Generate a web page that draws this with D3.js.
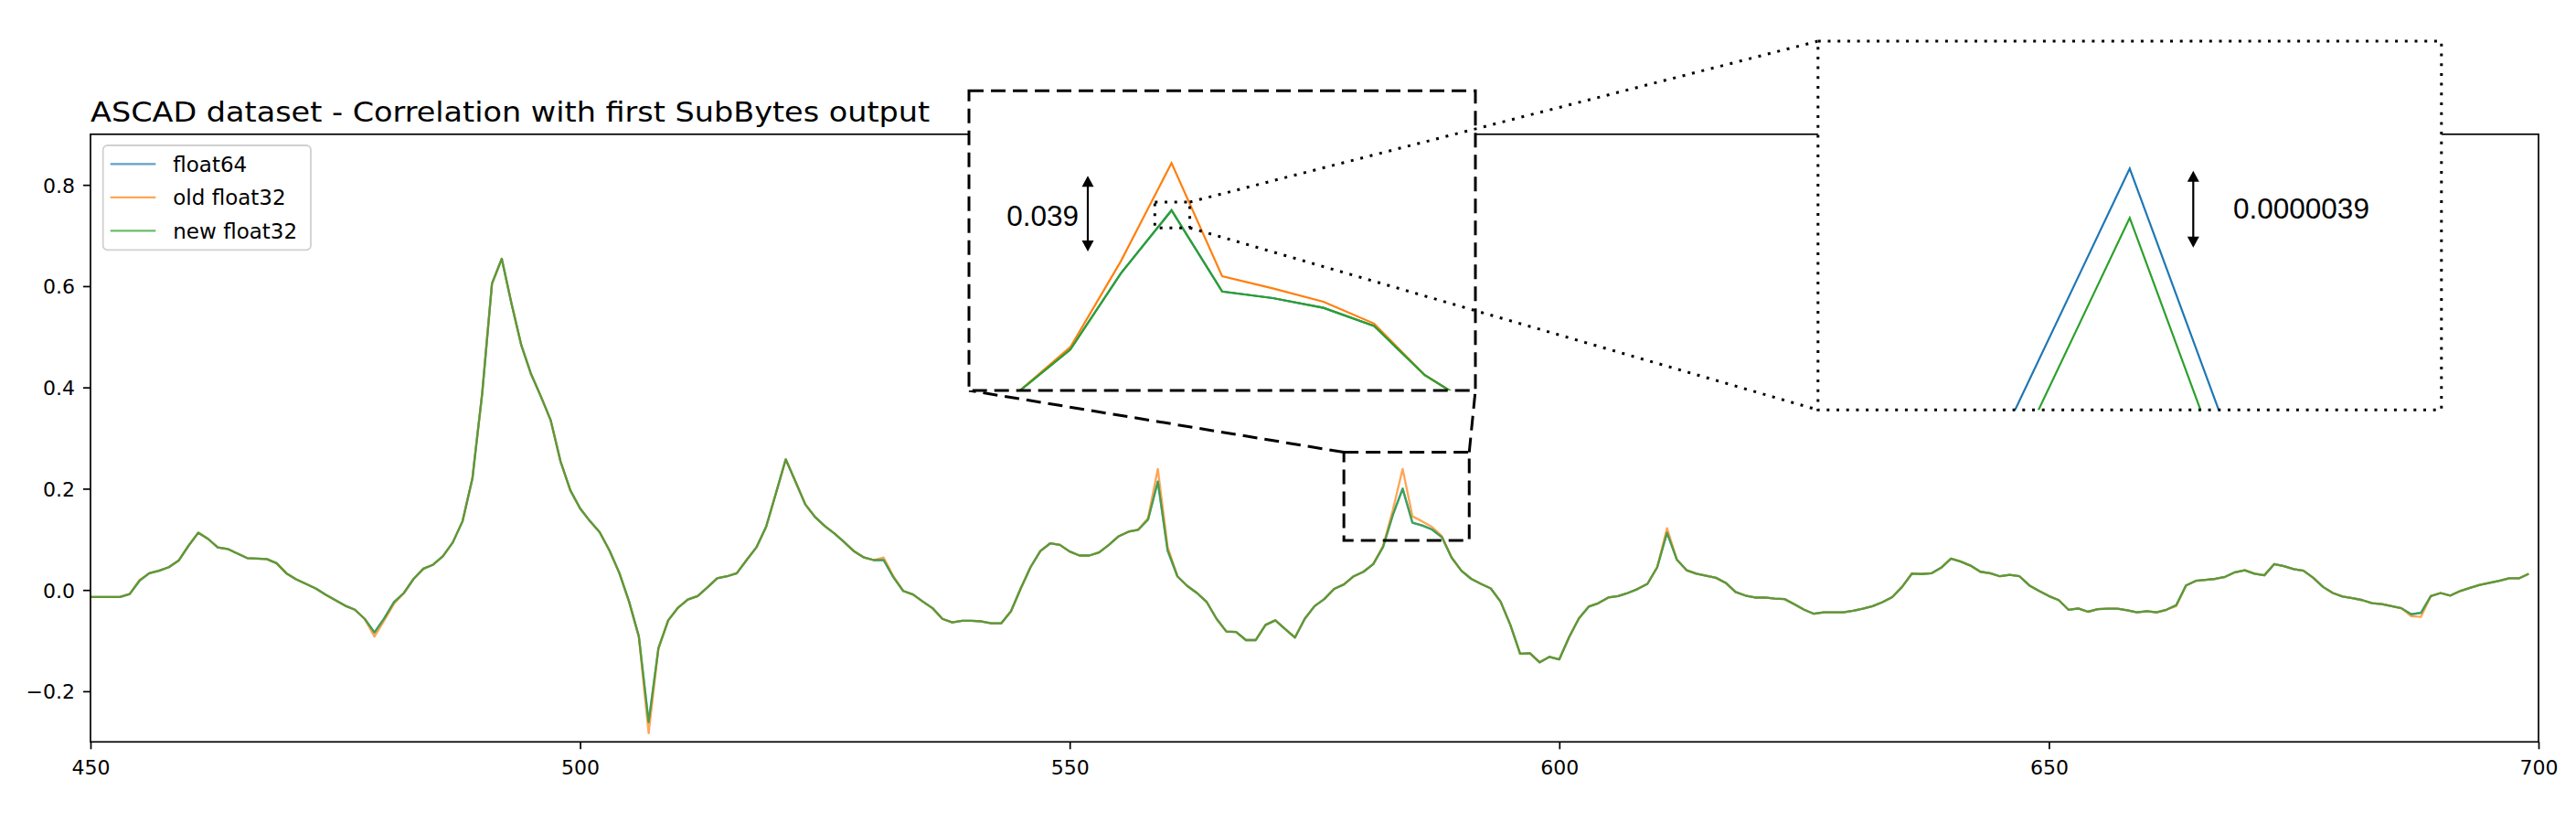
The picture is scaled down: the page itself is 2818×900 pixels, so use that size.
<!DOCTYPE html>
<html><head><meta charset="utf-8">
<script src="https://cdn.jsdelivr.net/npm/d3@7"></script>
<style>body{margin:0;background:#fff}</style>
</head><body><svg id="c" width="2818" height="900"></svg>
<script>
// ---------------- data ----------------
const xStart = 450; // first sample index
const newFloat32 = [
 -0.014,-0.014,-0.014,-0.014,-0.008,0.018,0.033,0.038,0.045,0.058,
 0.087,0.113,0.101,0.084,0.081,0.072,0.063,0.062,0.061,0.053,
 0.033,0.021,0.012,0.003,-0.009,-0.020,-0.031,-0.039,-0.057,-0.084,
 -0.056,-0.024,-0.006,0.022,0.042,0.050,0.067,0.094,0.136,0.220,
 0.388,0.605,0.654,0.565,0.483,0.426,0.382,0.335,0.254,0.197,
 0.161,0.136,0.114,0.078,0.034,-0.023,-0.092,-0.261,-0.115,-0.060,
 -0.035,-0.019,-0.012,0.005,0.023,0.027,0.033,0.059,0.084,0.125,
 0.191,0.258,0.214,0.169,0.144,0.126,0.111,0.094,0.076,0.064,
 0.059,0.059,0.025,-0.002,-0.009,-0.023,-0.036,-0.057,-0.064,-0.061,
 -0.061,-0.062,-0.066,-0.066,-0.042,0.003,0.045,0.077,0.092,0.089,
 0.076,0.068,0.068,0.074,0.089,0.106,0.115,0.119,0.139,0.214,
 0.078,0.027,0.008,-0.006,-0.024,-0.057,-0.082,-0.083,-0.099,-0.099,
 -0.069,-0.060,-0.077,-0.094,-0.057,-0.032,-0.018,0.002,0.011,0.027,
 0.036,0.051,0.085,0.148,0.2000000,0.133,0.1275,0.1195,0.1045,0.064,
 0.038,0.022,0.012,0.003,-0.023,-0.069,-0.126,-0.125,-0.143,-0.132,
 -0.137,-0.093,-0.056,-0.033,-0.026,-0.015,-0.012,-0.006,0.002,0.012,
 0.045,0.113,0.060,0.039,0.032,0.028,0.024,0.014,-0.004,-0.011,
 -0.015,-0.015,-0.017,-0.018,-0.028,-0.039,-0.047,-0.044,-0.044,-0.044,
 -0.041,-0.037,-0.032,-0.024,-0.014,0.006,0.032,0.0315,0.033,0.044,
 0.062,0.056,0.048,0.036,0.033,0.027,0.030,0.027,0.009,-0.002,
 -0.012,-0.020,-0.039,-0.0365,-0.043,-0.038,-0.037,-0.037,-0.040,-0.044,
 -0.042,-0.044,-0.039,-0.030,0.009,0.018,0.020,0.022,0.026,0.035,
 0.039,0.032,0.029,0.051,0.047,0.041,0.038,0.024,0.006,-0.006,
 -0.013,-0.016,-0.020,-0.026,-0.028,-0.032,-0.036,-0.048,-0.045,-0.012,
 -0.006,-0.011,-0.002,0.004,0.010,0.014,0.018,0.023,0.023,0.032
];
const oldFloat32 = [
 -0.014,-0.014,-0.014,-0.014,-0.008,0.020,0.033,0.038,0.045,0.058,
 0.087,0.113,0.101,0.084,0.081,0.072,0.063,0.062,0.061,0.053,
 0.033,0.021,0.012,0.003,-0.009,-0.020,-0.031,-0.039,-0.057,-0.092,
 -0.060,-0.027,-0.006,0.022,0.042,0.050,0.067,0.094,0.136,0.220,
 0.388,0.605,0.654,0.565,0.483,0.426,0.382,0.335,0.254,0.197,
 0.161,0.136,0.114,0.078,0.034,-0.023,-0.092,-0.283,-0.115,-0.060,
 -0.035,-0.019,-0.012,0.005,0.023,0.027,0.033,0.059,0.084,0.125,
 0.191,0.258,0.214,0.169,0.144,0.126,0.111,0.094,0.076,0.064,
 0.059,0.064,0.027,-0.002,-0.009,-0.023,-0.036,-0.057,-0.064,-0.061,
 -0.061,-0.062,-0.066,-0.066,-0.042,0.003,0.045,0.077,0.092,0.089,
 0.076,0.068,0.068,0.074,0.089,0.106,0.115,0.119,0.142,0.239,
 0.085,0.027,0.008,-0.006,-0.024,-0.057,-0.082,-0.083,-0.099,-0.099,
 -0.069,-0.060,-0.077,-0.094,-0.057,-0.032,-0.018,0.002,0.011,0.027,
 0.036,0.051,0.087,0.158,0.239,0.1455,0.1355,0.1245,0.1065,0.064,
 0.038,0.022,0.012,0.003,-0.023,-0.069,-0.126,-0.125,-0.143,-0.132,
 -0.137,-0.093,-0.056,-0.033,-0.026,-0.015,-0.012,-0.006,0.002,0.012,
 0.045,0.122,0.060,0.039,0.032,0.028,0.024,0.014,-0.004,-0.011,
 -0.015,-0.015,-0.017,-0.018,-0.028,-0.039,-0.047,-0.044,-0.044,-0.044,
 -0.041,-0.037,-0.032,-0.024,-0.014,0.006,0.033,0.0315,0.033,0.044,
 0.062,0.056,0.048,0.036,0.033,0.027,0.030,0.027,0.009,-0.002,
 -0.012,-0.020,-0.039,-0.0365,-0.043,-0.038,-0.037,-0.037,-0.040,-0.044,
 -0.042,-0.044,-0.039,-0.032,0.009,0.018,0.020,0.022,0.026,0.035,
 0.039,0.032,0.029,0.051,0.047,0.041,0.038,0.024,0.006,-0.006,
 -0.013,-0.016,-0.020,-0.026,-0.028,-0.032,-0.036,-0.052,-0.053,-0.012,
 -0.006,-0.011,-0.002,0.004,0.010,0.014,0.018,0.023,0.023,0.032
];
const float64 = [
 -0.014,-0.014,-0.014,-0.014,-0.008,0.018,0.033,0.038,0.045,0.058,
 0.087,0.113,0.101,0.084,0.081,0.072,0.063,0.062,0.061,0.053,
 0.033,0.021,0.012,0.003,-0.009,-0.020,-0.031,-0.039,-0.057,-0.084,
 -0.056,-0.024,-0.006,0.022,0.042,0.050,0.067,0.094,0.136,0.220,
 0.388,0.605,0.654,0.565,0.483,0.426,0.382,0.335,0.254,0.197,
 0.161,0.136,0.114,0.078,0.034,-0.023,-0.092,-0.261,-0.115,-0.060,
 -0.035,-0.019,-0.012,0.005,0.023,0.027,0.033,0.059,0.084,0.125,
 0.191,0.258,0.214,0.169,0.144,0.126,0.111,0.094,0.076,0.064,
 0.059,0.059,0.025,-0.002,-0.009,-0.023,-0.036,-0.057,-0.064,-0.061,
 -0.061,-0.062,-0.066,-0.066,-0.042,0.003,0.045,0.077,0.092,0.089,
 0.076,0.068,0.068,0.074,0.089,0.106,0.115,0.119,0.139,0.214,
 0.078,0.027,0.008,-0.006,-0.024,-0.057,-0.082,-0.083,-0.099,-0.099,
 -0.069,-0.060,-0.077,-0.094,-0.057,-0.032,-0.018,0.002,0.011,0.027,
 0.036,0.051,0.085,0.148,0.2000039,0.133,0.1275,0.1195,0.1045,0.064,
 0.038,0.022,0.012,0.003,-0.023,-0.069,-0.126,-0.125,-0.143,-0.132,
 -0.137,-0.093,-0.056,-0.033,-0.026,-0.015,-0.012,-0.006,0.002,0.012,
 0.045,0.113,0.060,0.039,0.032,0.028,0.024,0.014,-0.004,-0.011,
 -0.015,-0.015,-0.017,-0.018,-0.028,-0.039,-0.047,-0.044,-0.044,-0.044,
 -0.041,-0.037,-0.032,-0.024,-0.014,0.006,0.032,0.0315,0.033,0.044,
 0.062,0.056,0.048,0.036,0.033,0.027,0.030,0.027,0.009,-0.002,
 -0.012,-0.020,-0.039,-0.0365,-0.043,-0.038,-0.037,-0.037,-0.040,-0.044,
 -0.042,-0.044,-0.039,-0.030,0.009,0.018,0.020,0.022,0.026,0.035,
 0.039,0.032,0.029,0.051,0.047,0.041,0.038,0.024,0.006,-0.006,
 -0.013,-0.016,-0.020,-0.026,-0.028,-0.032,-0.036,-0.048,-0.045,-0.012,
 -0.006,-0.011,-0.002,0.004,0.010,0.014,0.018,0.023,0.023,0.032
];
const seriesNames = ["float64", "old float32", "new float32"];
const xTicks = [450, 500, 550, 600, 650, 700];
const yTicks = [-0.2, 0.0, 0.2, 0.4, 0.6, 0.8];
const titleText = "ASCAD dataset - Correlation with first SubBytes output";
const diffLabels = ["0.039", "0.0000039"];
// zoom windows (data coordinates)
const zoomMarkMain = {x: [578, 590.8], y: [0.098, 0.272]};   // dashed box drawn on the main axes
const inset1Lim = {x: [580, 590], y: [0.0513, 0.2986]};        // first inset view
const zoomMarkInset1 = {x: [583.67, 584.36], y: [0.1855, 0.2068]}; // dotted box inside inset 1
const inset2Half = {x: 0.000997, yAbove: 0.00001006, yBelow: 0.00001907}; // second inset view around float64 peak

// ---------------- layout ----------------
const W = 2818, H = 900;
const plot = {l: 99, r: 2777, t: 146.8, b: 811.3};
const in1 = {l: 1060, r: 1614, t: 99.3, b: 427};
const in2 = {l: 1988.8, r: 2670.8, t: 45, b: 448.3};
const colors = ["#1f77b4", "#ff7f0e", "#2ca02c"];
const FONT = "DejaVu Sans, sans-serif";
const ARIAL = "Liberation Sans, Arial, sans-serif";

const svg = d3.select("#c");
svg.append("rect").attr("width", W).attr("height", H).attr("fill", "#fff");
const defs = svg.append("defs");

const idx = d3.range(newFloat32.length).map(i => xStart + i);
const allSeries = [float64, oldFloat32, newFloat32];

const x = d3.scaleLinear().domain([450, 700]).range([plot.l, plot.r]);
const y = d3.scaleLinear().domain([-0.3, 0.9]).range([plot.b, plot.t]);

defs.append("clipPath").attr("id", "clipMain").append("rect")
  .attr("x", plot.l).attr("y", plot.t).attr("width", plot.r - plot.l).attr("height", plot.b - plot.t);

// main lines
const gMain = svg.append("g").attr("clip-path", "url(#clipMain)");
allSeries.forEach((s, k) => {
  const line = d3.line().x((d, i) => x(idx[i])).y(d => y(d));
  gMain.append("path").datum(s).attr("d", line)
    .attr("fill", "none").attr("stroke", colors[k]).attr("stroke-opacity", 0.7)
    .attr("stroke-width", 2.3).attr("stroke-linejoin", "round");
});

// spines
svg.append("rect").attr("x", plot.l).attr("y", plot.t).attr("width", plot.r - plot.l).attr("height", plot.b - plot.t)
  .attr("fill", "none").attr("stroke", "#000").attr("stroke-width", 1.7);

// axes
const xAxis = svg.append("g").attr("transform", `translate(0,${plot.b})`)
  .call(d3.axisBottom(x).tickValues(xTicks).tickSize(8).tickFormat(d3.format("d")));
xAxis.select(".domain").remove();
xAxis.selectAll("line").attr("stroke", "#000").attr("stroke-width", 1.7);
xAxis.selectAll("text").attr("y", 36).attr("dy", 0).attr("fill", "#000")
  .style("font-family", FONT).style("font-size", "22px");

const yFmt = d => (d < 0 ? "\u2212" : "") + Math.abs(d).toFixed(1);
const yAxis = svg.append("g").attr("transform", `translate(${plot.l},0)`)
  .call(d3.axisLeft(y).tickValues(yTicks).tickSize(8).tickFormat(yFmt));
yAxis.select(".domain").remove();
yAxis.selectAll("line").attr("stroke", "#000").attr("stroke-width", 1.7);
yAxis.selectAll("text").attr("x", -17).attr("dy", "0.36em").attr("fill", "#000")
  .style("font-family", FONT).style("font-size", "22px");

// title
svg.append("text").attr("transform", `translate(${plot.l},132.7) scale(1.08,1)`)
  .style("font-family", FONT).style("font-size", "31px").attr("fill", "#000").text(titleText);

// legend
const leg = svg.append("g");
leg.append("rect").attr("x", 112.7).attr("y", 159).attr("width", 227.3).attr("height", 114.3)
  .attr("rx", 5).attr("fill", "#fff").attr("fill-opacity", 0.8).attr("stroke", "#d0d0d0").attr("stroke-width", 1.8);
seriesNames.forEach((n, k) => {
  const cy = 179.3 + k * 36.5;
  leg.append("line").attr("x1", 120.7).attr("x2", 170.3).attr("y1", cy).attr("y2", cy)
    .attr("stroke", colors[k]).attr("stroke-opacity", 0.7).attr("stroke-width", 2.3);
  leg.append("text").attr("x", 189.3).attr("y", cy).attr("dy", "0.36em")
    .style("font-family", FONT).style("font-size", "23px").attr("fill", "#000").text(n);
});

// dashed zoom mark on main axes + connectors to inset 1
const dashed = "16,8";
const mr = {l: x(zoomMarkMain.x[0]), r: x(zoomMarkMain.x[1]), t: y(zoomMarkMain.y[1]), b: y(zoomMarkMain.y[0])};
const gAnn = svg.append("g").attr("fill", "none").attr("stroke", "#000").attr("stroke-width", 3);
gAnn.append("rect").attr("x", mr.l).attr("y", mr.t).attr("width", mr.r - mr.l).attr("height", mr.b - mr.t)
  .attr("stroke-dasharray", dashed);
gAnn.append("line").attr("x1", mr.l).attr("y1", mr.t).attr("x2", in1.l).attr("y2", in1.b).attr("stroke-dasharray", dashed);
gAnn.append("line").attr("x1", mr.r).attr("y1", mr.t).attr("x2", in1.r).attr("y2", in1.b).attr("stroke-dasharray", dashed);

// arrow helper
function dblArrow(g, ax, y1, y2) {
  g.append("line").attr("x1", ax).attr("x2", ax).attr("y1", y1 + 8).attr("y2", y2 - 8)
    .attr("stroke", "#000").attr("stroke-width", 2.2);
  g.append("path").attr("d", `M${ax},${y1} L${ax - 6.5},${y1 + 12} L${ax + 6.5},${y1 + 12} Z`).attr("fill", "#000");
  g.append("path").attr("d", `M${ax},${y2} L${ax - 6.5},${y2 - 12} L${ax + 6.5},${y2 - 12} Z`).attr("fill", "#000");
}

// ---------- inset 1 ----------
const x1 = d3.scaleLinear().domain(inset1Lim.x).range([in1.l, in1.r]);
const y1 = d3.scaleLinear().domain(inset1Lim.y).range([in1.b, in1.t]);
defs.append("clipPath").attr("id", "clip1").append("rect")
  .attr("x", in1.l).attr("y", in1.t).attr("width", in1.r - in1.l).attr("height", in1.b - in1.t);
const gI1 = svg.append("g");
gI1.append("rect").attr("x", in1.l).attr("y", in1.t).attr("width", in1.r - in1.l).attr("height", in1.b - in1.t).attr("fill", "#fff");
const gI1L = gI1.append("g").attr("clip-path", "url(#clip1)");
const sub1 = idx.map((v, i) => i).filter(i => idx[i] >= 578 && idx[i] <= 592);
allSeries.forEach((s, k) => {
  const line = d3.line().x(i => x1(idx[i])).y(i => y1(s[i]));
  gI1L.append("path").datum(sub1).attr("d", line).attr("fill", "none")
    .attr("stroke", colors[k]).attr("stroke-width", 2.2).attr("stroke-linejoin", "miter");
});
gI1.append("rect").attr("x", in1.l).attr("y", in1.t).attr("width", in1.r - in1.l).attr("height", in1.b - in1.t)
  .attr("fill", "none").attr("stroke", "#000").attr("stroke-width", 3).attr("stroke-dasharray", dashed);
dblArrow(gI1, 1190, 192.3, 275);
gI1.append("text").attr("x", 1180).attr("y", 246.7).attr("text-anchor", "end")
  .style("font-family", ARIAL).style("font-size", "31.5px").attr("fill", "#000").text(diffLabels[0]);

// dotted mark inside inset 1 + connectors to inset 2
const dotted = "3,7.7";
const dm = {l: x1(zoomMarkInset1.x[0]), r: x1(zoomMarkInset1.x[1]), t: y1(zoomMarkInset1.y[1]), b: y1(zoomMarkInset1.y[0])};
const gDot = svg.append("g").attr("fill", "none").attr("stroke", "#000").attr("stroke-width", 3).attr("stroke-dasharray", dotted);
gDot.append("rect").attr("x", dm.l).attr("y", dm.t).attr("width", dm.r - dm.l).attr("height", dm.b - dm.t);
gDot.append("line").attr("x1", dm.r).attr("y1", dm.t).attr("x2", in2.l).attr("y2", in2.t);
gDot.append("line").attr("x1", dm.r).attr("y1", dm.b).attr("x2", in2.l).attr("y2", in2.b);

// ---------- inset 2 ----------
const peakI = newFloat32.indexOf(d3.max(newFloat32.slice(120, 140)));
const peakX = idx[peakI];
const peak64 = float64[peakI];
const x2 = d3.scaleLinear().domain([peakX - inset2Half.x, peakX + inset2Half.x]).range([in2.l, in2.r]);
const y2 = d3.scaleLinear().domain([peak64 - inset2Half.yBelow, peak64 + inset2Half.yAbove]).range([in2.b, in2.t]);
defs.append("clipPath").attr("id", "clip2").append("rect")
  .attr("x", in2.l).attr("y", in2.t).attr("width", in2.r - in2.l).attr("height", in2.b - in2.t);
const gI2 = svg.append("g");
gI2.append("rect").attr("x", in2.l).attr("y", in2.t).attr("width", in2.r - in2.l).attr("height", in2.b - in2.t).attr("fill", "#fff");
const gI2L = gI2.append("g").attr("clip-path", "url(#clip2)");
const sub2 = [peakI - 1, peakI, peakI + 1];
[[float64, colors[0]], [newFloat32, colors[2]]].forEach(([s, c]) => {
  const line = d3.line().x(i => x2(idx[i])).y(i => y2(s[i]));
  gI2L.append("path").datum(sub2).attr("d", line).attr("fill", "none")
    .attr("stroke", c).attr("stroke-width", 2.2).attr("stroke-linejoin", "miter").attr("stroke-miterlimit", 20);
});
gI2.append("rect").attr("x", in2.l).attr("y", in2.t).attr("width", in2.r - in2.l).attr("height", in2.b - in2.t)
  .attr("fill", "none").attr("stroke", "#000").attr("stroke-width", 3).attr("stroke-dasharray", dotted);
dblArrow(gI2, 2399.3, 186.7, 270.7);
gI2.append("text").attr("x", 2443).attr("y", 239)
  .style("font-family", ARIAL).style("font-size", "31.5px").attr("fill", "#000").text(diffLabels[1]);
</script>
</body></html>
